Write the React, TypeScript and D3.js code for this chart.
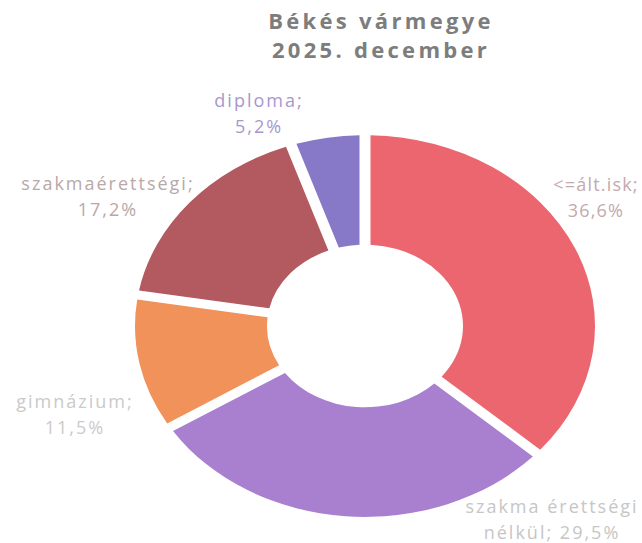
import React from 'react'
import * as d3 from 'd3'

const categories = ['<=ált.isk', 'szakma érettségi nélkül', 'gimnázium', 'szakmaérettségi', 'diploma']
const values = [36.6, 29.5, 11.5, 17.2, 5.2]
const colors = ['#ec6670', '#a97fd0', '#f0925a', '#b25a5f', '#8878c8']
const labelColors = ['#c4a9ad', '#c6c6c6', '#cacaca', '#b9a8a8', '#a897cc']
// label lines as they are broken in the picture
const labelLines = [
  ['<=ált.isk;', '36,6%'],
  ['szakma érettségi', 'nélkül; 29,5%'],
  ['gimnázium;', '11,5%'],
  ['szakmaérettségi;', '17,2%'],
  ['diploma;', '5,2%'],
]
const labelPos = [
  [596, 191],
  [552, 513],
  [75, 408],
  [108, 190],
  [259, 107],
]
const labelSpacing = [1.2, 2, 2, 2, 2]
const titleLines = ['Békés vármegye', '2025. december']

const W = 642
const H = 543
const cx = 365
const cy = 326
const outerR = 230
const innerR = 98
const squash = 0.83

export default function App() {
  const pie = d3.pie<number>().sort(null).value(d => d)
  const arcs = pie(values)
  const arc = d3.arc<d3.PieArcDatum<number>>()
    .innerRadius(innerR)
    .outerRadius(outerR)
    .padAngle(11 / 230)
    .padRadius(230)

  return (
    <svg width={W} height={H} style={{ position: 'absolute', left: 0, top: 0, background: '#fff' }}
      fontFamily="'Open Sans', sans-serif">
      <g textAnchor="middle" fontWeight="bold" fontSize={22} fill="#7d7d7d">
        {titleLines.map((t, i) => (
          <text key={i} x={381} y={29 + i * 29} letterSpacing={3.3}>{t}</text>
        ))}
      </g>
      <g transform={`translate(${cx},${cy}) scale(1,${squash})`}>
        {arcs.map((a, i) => (
          <path key={categories[i]} d={arc(a) || ''} fill={colors[i]} />
        ))}
      </g>
      <g textAnchor="middle" fontSize={18}>
        {labelLines.map((lines, i) => (
          <text key={i} x={labelPos[i][0]} y={labelPos[i][1]} fill={labelColors[i]}
            letterSpacing={labelSpacing[i]}>
            {lines.map((l, j) => (
              <tspan key={j} x={labelPos[i][0]} dy={j === 0 ? 0 : 26}>{l}</tspan>
            ))}
          </text>
        ))}
      </g>
    </svg>
  )
}
